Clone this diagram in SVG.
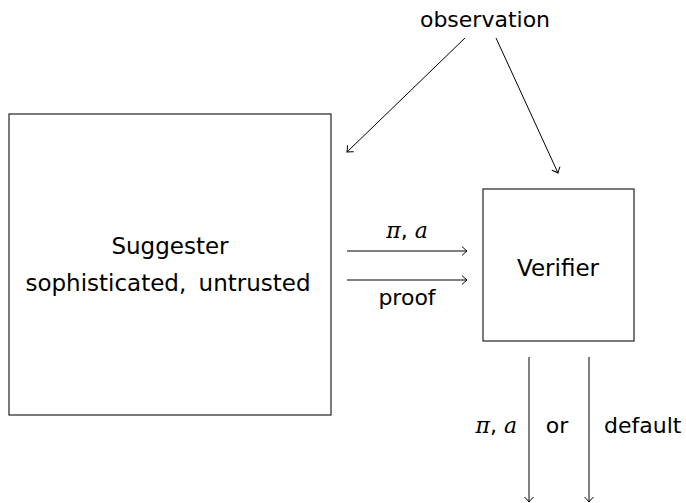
<svg xmlns="http://www.w3.org/2000/svg" width="686" height="503" viewBox="0 0 686 503">
<style>
text{font-family:"DejaVu Sans","Liberation Sans",sans-serif;font-size:22px;fill:#000}
.big{font-size:23px}
.m{font-family:"DejaVu Serif","Liberation Serif",serif;font-style:italic}
.box{fill:#fff;stroke:#222;stroke-width:1.2}
.c line{stroke:#000;stroke-width:1;marker-end:url(#ah)}
</style>
<defs>
<marker id="ah" markerUnits="userSpaceOnUse" markerWidth="14" markerHeight="14" viewBox="-8 -7 10 14" refX="0" refY="0" orient="auto">
<path d="M-5,-4.5 Q-1.5,-1 0,0 Q-1.5,1 -5,4.5" fill="none" stroke="#000" stroke-width="1"/>
</marker>
</defs>
<g id="observation"><text x="485" y="27" text-anchor="middle">observation</text></g>
<g id="suggester">
<rect class="box" x="9" y="114" width="322" height="301"/>
<text class="big" x="170" y="254" text-anchor="middle">Suggester</text>
<text class="big" x="168" y="291" text-anchor="middle" word-spacing="5">sophisticated, untrusted</text>
</g>
<g id="verifier">
<rect class="box" x="483" y="189" width="151" height="152"/>
<text class="big" x="558" y="276" text-anchor="middle">Verifier</text>
</g>
<g class="c" id="connectors">
<line x1="465" y1="38" x2="347" y2="152"/>
<line x1="496" y1="38" x2="558" y2="173"/>
<line x1="347" y1="251" x2="467" y2="251"/>
<line x1="347" y1="280" x2="467" y2="280"/>
<line x1="529" y1="357" x2="529" y2="502"/>
<line x1="589" y1="357" x2="589" y2="502"/>
</g>
<g id="labels">
<text x="407" y="238" text-anchor="middle"><tspan class="m">π</tspan>, <tspan class="m">a</tspan></text>
<text x="407" y="305" text-anchor="middle">proof</text>
<text x="517" y="433" text-anchor="end"><tspan class="m">π</tspan>, <tspan class="m">a</tspan></text>
<text x="557" y="433" text-anchor="middle">or</text>
<text x="604" y="433">default</text>
</g>
</svg>
